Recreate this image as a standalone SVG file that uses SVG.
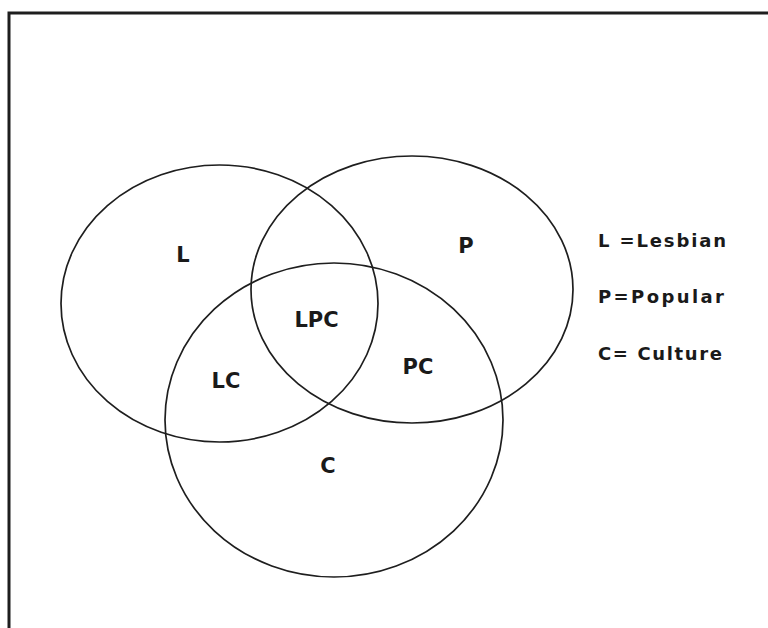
<svg xmlns="http://www.w3.org/2000/svg" width="768" height="628" viewBox="0 0 768 628">
<style>
.set{fill:none;stroke:#1e1e1e;stroke-width:1.7}
.lbl{font-family:"DejaVu Sans","Liberation Sans",sans-serif;font-weight:bold;font-size:21px;fill:#1a1a1a;text-anchor:middle}
.leg{font-family:"DejaVu Sans","Liberation Sans",sans-serif;font-weight:bold;font-size:18px;fill:#1a1a1a}
</style>
<rect width="768" height="628" fill="#ffffff"/>
<g id="frame">
<path d="M9 628 V13 H768" fill="none" stroke="#1e1e1e" stroke-width="3"/>
</g>
<g id="set-L"><ellipse class="set" cx="219.5" cy="303.5" rx="158.5" ry="138.5"/><text class="lbl" x="183" y="262">L</text></g>
<g id="set-P"><ellipse class="set" cx="412" cy="289.5" rx="161" ry="133.5"/><text class="lbl" x="466" y="253">P</text></g>
<g id="set-C"><ellipse class="set" cx="334" cy="420" rx="169" ry="157"/><text class="lbl" x="328" y="473">C</text></g>
<g id="region-LPC"><text class="lbl" x="316.5" y="327">LPC</text></g>
<g id="region-LC"><text class="lbl" x="226" y="388">LC</text></g>
<g id="region-PC"><text class="lbl" x="418" y="374">PC</text></g>
<g id="legend">
<text class="leg" x="598" y="247" textLength="128" lengthAdjust="spacing">L =Lesbian</text>
<text class="leg" x="598" y="303" textLength="126" lengthAdjust="spacing">P=Popular</text>
<text class="leg" x="598" y="360" textLength="124" lengthAdjust="spacing">C= Culture</text>
</g>
</svg>
